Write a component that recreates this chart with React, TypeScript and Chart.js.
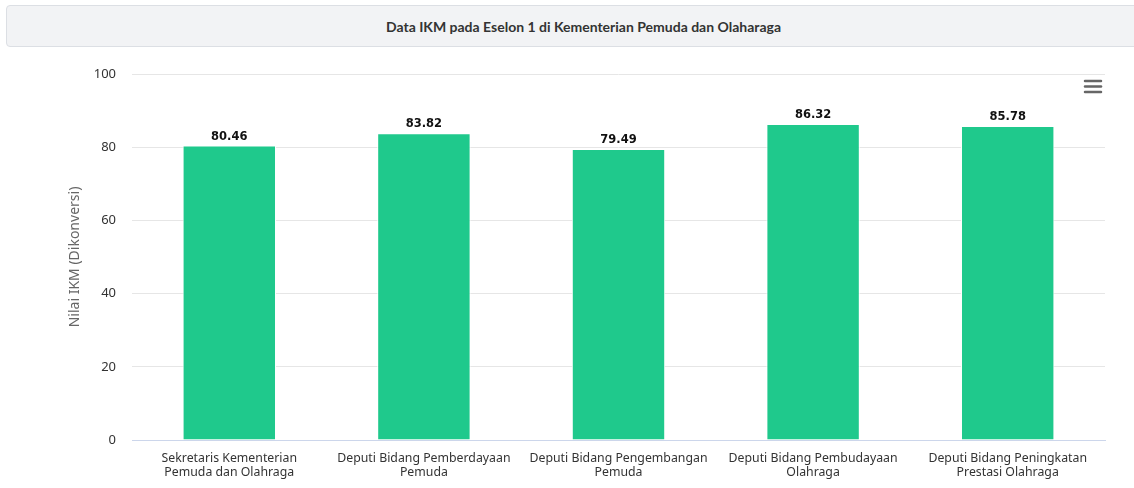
import React, { useEffect, useRef } from "react";
import { Chart, registerables } from "chart.js";

Chart.register(...registerables);

const titleText = "Data IKM pada Eselon 1 di Kementerian Pemuda dan Olaharaga";
const yAxisTitle = "Nilai IKM (Dikonversi)";
const categories: string[][] = [
  ["Sekretaris Kementerian", "Pemuda dan Olahraga"],
  ["Deputi Bidang Pemberdayaan", "Pemuda"],
  ["Deputi Bidang Pengembangan", "Pemuda"],
  ["Deputi Bidang Pembudayaan", "Olahraga"],
  ["Deputi Bidang Peningkatan", "Prestasi Olahraga"],
];
const values: number[] = [80.46, 83.82, 79.49, 86.32, 85.78];
const yMin = 0;
const yMax = 100;
const yStep = 20;

const FONT = "'Noto Sans', sans-serif";
const LABEL_FONT = "'DejaVu Sans', sans-serif";
const BAR_COLOR = "#1fc98c";

const dataLabelPlugin = {
  id: "dataLabels",
  afterDatasetsDraw(chart: any) {
    const ctx = chart.ctx;
    const meta = chart.getDatasetMeta(0);
    ctx.save();
    ctx.font = `bold 11.5px ${LABEL_FONT}`;
    ctx.textAlign = "center";
    ctx.textBaseline = "alphabetic";
    meta.data.forEach((el: any, i: number) => {
      const txt = values[i].toFixed(2);
      const x = el.x;
      const y = el.y - 6;
      ctx.lineWidth = 2;
      ctx.strokeStyle = "#ffffff";
      ctx.lineJoin = "round";
      ctx.strokeText(txt, x, y);
      ctx.fillStyle = "#111111";
      ctx.fillText(txt, x, y);
    });
    ctx.restore();
  },
};

const menuIconPlugin = {
  id: "menuIcon",
  afterDraw(chart: any) {
    const ctx = chart.ctx;
    ctx.save();
    ctx.strokeStyle = "#666666";
    ctx.lineWidth = 2.5;
    ctx.lineCap = "round";
    const x0 = 1085;
    const x1 = 1101;
    [31, 36.5, 42].forEach((y) => {
      ctx.beginPath();
      ctx.moveTo(x0, y);
      ctx.lineTo(x1, y);
      ctx.stroke();
    });
    ctx.restore();
  },
};

export default function App() {
  const canvasRef = useRef<HTMLCanvasElement | null>(null);

  useEffect(() => {
    if (!canvasRef.current) return;
    const chart = new Chart(canvasRef.current, {
      type: "bar",
      data: {
        labels: categories,
        datasets: [
          {
            data: values,
            backgroundColor: BAR_COLOR,
            borderColor: "#ffffff",
            borderWidth: 1,
            categoryPercentage: 1,
            barPercentage: 0.48,
          },
        ],
      },
      plugins: [dataLabelPlugin, menuIconPlugin],
      options: {
        animation: false,
        responsive: false,
        maintainAspectRatio: false,
        layout: { padding: { top: 24, right: 29, left: 0, bottom: 0 } },
        plugins: {
          legend: { display: false },
          tooltip: { enabled: false },
          title: { display: false },
        },
        scales: {
          x: {
            grid: { display: false, drawTicks: false },
            border: { display: true, color: "#ccd6eb", width: 1 },
            ticks: {
              color: "#333333",
              font: { family: FONT, size: 12.3, lineHeight: 1.15 },
              padding: 11,
              maxRotation: 0,
              autoSkip: false,
            },
            afterFit(scale: any) {
              scale.height = 48;
            },
          },
          y: {
            min: yMin,
            max: yMax,
            grid: { color: "#e6e6e6", drawTicks: false, lineWidth: 1 },
            border: { display: false },
            ticks: {
              stepSize: yStep,
              color: "#333333",
              font: { family: FONT, size: 13 },
              padding: 16,
            },
            title: {
              display: true,
              text: yAxisTitle,
              color: "#666666",
              font: { family: FONT, size: 14, weight: "normal" },
              padding: { top: 67, bottom: 0 },
            },
            afterFit(scale: any) {
              scale.width = 132;
            },
          },
        },
      },
    } as any);
    return () => chart.destroy();
  }, []);

  return (
    <div
      style={{
        position: "fixed",
        left: 0,
        top: 0,
        width: 1134,
        height: 488,
        overflow: "hidden",
        background: "#ffffff",
      }}
    >
      <div
        style={{
          position: "absolute",
          left: 6,
          top: 5,
          width: 1155,
          height: 42,
          boxSizing: "border-box",
          border: "1px solid #dcdfe4",
          borderRadius: 4,
          background: "#f2f3f5",
          display: "flex",
          alignItems: "center",
          justifyContent: "center",
          fontFamily: "Lato, sans-serif",
          fontWeight: 700,
          fontSize: 14,
          color: "#333333",
        }}
      >
        {titleText}
      </div>
      <canvas
        ref={canvasRef}
        width={1134}
        height={438}
        style={{ position: "absolute", left: 0, top: 50, width: 1134, height: 438 }}
      />
    </div>
  );
}
